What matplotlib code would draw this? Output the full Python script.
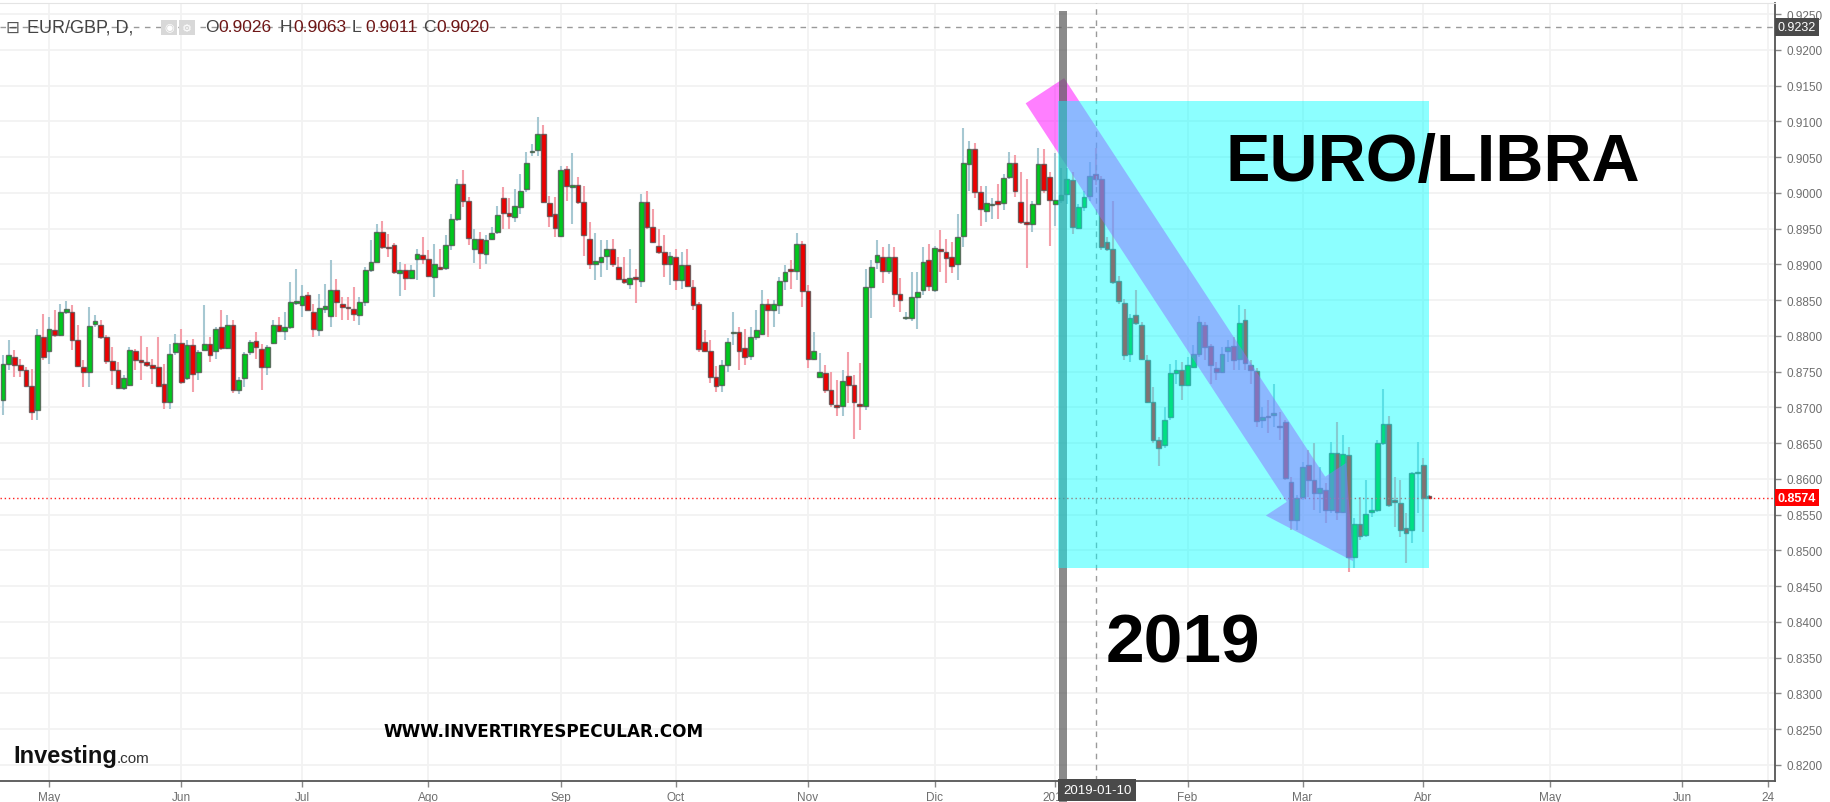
import numpy as np
import pandas as pd
import matplotlib
matplotlib.use('Agg')
import matplotlib.pyplot as plt
from matplotlib.patches import Rectangle, Polygon
import matplotlib.transforms as mtransforms

# EUR/GBP diario, 19-abr-2018 a 02-abr-2019
apertura = [
    .8711, .8761, .8771, .8760, .8752, .8730, .8697, .8798, .8779, .8809,
    .8801, .8833, .8834, .8795, .8757, .8749, .8817, .8815, .8798, .8765,
    .8753, .8727, .8732, .8779, .8767, .8764, .8760, .8757, .8733, .8707,
    .8777, .8790, .8741, .8787, .8749, .8781, .8789, .8779, .8812, .8783,
    .8815, .8724, .8741, .8777, .8793, .8782, .8757, .8790, .8815, .8807,
    .8812, .8846, .8844, .8858, .8834, .8808, .8838, .8828, .8864, .8845,
    .8841, .8838, .8830, .8848, .8892, .8904, .8946, .8925, .8927, .8888,
    .8892, .8881, .8907, .8913, .8908, .8882, .8897, .8895, .8927, .8964,
    .9012, .8989, .8922, .8936, .8914, .8936, .8946, .8993, .8972, .8966,
    .8981, .9005, .9058, .9060, .9082, .8986, .8971, .8940, .9034, .9009,
    .9011, .8988, .8936, .8900, .8903, .8912, .8921, .8896, .8880, .8873,
    .8882, .8877, .8987, .8953, .8926, .8918, .8900, .8910, .8878, .8899,
    .8868, .8845, .8791, .8779, .8743, .8731, .8760, .8804, .8805, .8783,
    .8772, .8798, .8803, .8845, .8836, .8843, .8877, .8893, .8891, .8929,
    .8863, .8768, .8743, .8748, .8725, .8703, .8702, .8744, .8732, .8705,
    .8702, .8868, .8904, .8911, .8891, .8911, .8859, .8825, .8825, .8855,
    .8865, .8906, .8865, .8921, .8917, .8911, .8900, .8940, .9041, .9062,
    .9002, .8975, .8983, .8989, .8986, .9022, .9042, .8987, .8959, .8956,
    .8985, .9041, .9023, .8985, .8990, .8999, .9018, .8951, .8980, .8996,
    .9026, .9020, .8931, .8922, .8877, .8846, .8775, .8829, .8816, .8766,
    .8708, .8654, .8648, .8687, .8748, .8752, .8732, .8757, .8775, .8815,
    .8786, .8755, .8749, .8779, .8786, .8768, .8823, .8759, .8751, .8683,
    .8688, .8690, .8674, .8679, .8596, .8543, .8575, .8619, .8598, .8580,
    .8585, .8556, .8636, .8554, .8633, .8491, .8537, .8522, .8554, .8556,
    .8650, .8677, .8570, .8567, .8531, .8529, .8608, .8620, .8576,
]
maximo = [
    .8773, .8794, .8780, .8768, .8757, .8754, .8810, .8831, .8826, .8836,
    .8845, .8849, .8843, .8815, .8766, .8841, .8829, .8822, .8801, .8784,
    .8764, .8745, .8784, .8782, .8800, .8784, .8768, .8798, .8761, .8789,
    .8803, .8810, .8794, .8796, .8780, .8843, .8799, .8813, .8836, .8829,
    .8822, .8743, .8778, .8794, .8806, .8789, .8787, .8823, .8827, .8834,
    .8876, .8893, .8871, .8861, .8845, .8859, .8872, .8906, .8879, .8854,
    .8854, .8869, .8855, .8896, .8934, .8956, .8961, .8943, .8930, .8904,
    .8901, .8899, .8922, .8939, .8920, .8929, .8922, .8941, .8971, .9020,
    .9032, .8994, .8950, .8945, .8941, .8952, .8982, .9009, .8993, .9006,
    .9027, .9057, .9069, .9106, .9095, .8996, .8994, .9038, .9038, .9056,
    .9023, .9010, .8959, .8944, .8934, .8934, .8936, .8911, .8911, .8922,
    .8894, .8998, .9003, .8978, .8949, .8941, .8918, .8921, .8918, .8922,
    .8878, .8848, .8809, .8794, .8758, .8766, .8797, .8834, .8813, .8810,
    .8813, .8836, .8864, .8852, .8851, .8883, .8899, .8906, .8944, .8933,
    .8871, .8805, .8776, .8759, .8750, .8739, .8752, .8778, .8745, .8762,
    .8894, .8906, .8934, .8925, .8928, .8924, .8881, .8833, .8889, .8890,
    .8924, .8928, .8926, .8948, .8935, .8931, .8970, .9091, .9072, .9070,
    .9010, .9010, .8993, .9013, .9026, .9057, .9053, .9030, .9019, .8989,
    .9063, .9062, .9030, .9056, .9035, .9035, .9030, .8984, .9003, .9044,
    .9063, .9024, .8938, .8989, .8884, .8852, .8831, .8864, .8819, .8773,
    .8729, .8659, .8701, .8761, .8766, .8764, .8771, .8787, .8828, .8820,
    .8789, .8764, .8785, .8794, .8799, .8844, .8838, .8766, .8755, .8701,
    .8710, .8733, .8694, .8682, .8603, .8577, .8624, .8640, .8651, .8617,
    .8594, .8652, .8680, .8661, .8645, .8545, .8575, .8598, .8573, .8654,
    .8726, .8688, .8603, .8598, .8552, .8610, .8652, .8629, .8578,
]
minimo = [
    .8689, .8752, .8743, .8743, .8729, .8682, .8682, .8766, .8761, .8799,
    .8800, .8831, .8780, .8757, .8729, .8729, .8813, .8796, .8761, .8731,
    .8726, .8725, .8730, .8752, .8738, .8757, .8733, .8729, .8698, .8698,
    .8774, .8733, .8738, .8721, .8739, .8780, .8764, .8768, .8780, .8782,
    .8720, .8719, .8729, .8773, .8768, .8724, .8745, .8789, .8806, .8795,
    .8810, .8843, .8827, .8836, .8799, .8800, .8832, .8813, .8826, .8822,
    .8822, .8821, .8816, .8842, .8889, .8903, .8921, .8910, .8886, .8856,
    .8864, .8880, .8878, .8901, .8882, .8854, .8892, .8892, .8920, .8961,
    .8980, .8927, .8902, .8894, .8901, .8934, .8942, .8950, .8950, .8960,
    .8971, .9001, .9052, .9052, .8986, .8952, .8938, .8938, .8989, .8956,
    .8985, .8912, .8894, .8878, .8883, .8892, .8897, .8878, .8873, .8866,
    .8846, .8868, .8950, .8930, .8915, .8883, .8871, .8864, .8866, .8868,
    .8836, .8778, .8777, .8734, .8722, .8722, .8750, .8787, .8752, .8759,
    .8766, .8794, .8801, .8799, .8813, .8831, .8864, .8866, .8878, .8841,
    .8755, .8766, .8742, .8720, .8701, .8688, .8688, .8706, .8656, .8669,
    .8696, .8825, .8894, .8874, .8886, .8840, .8833, .8822, .8821, .8810,
    .8858, .8863, .8861, .8889, .8874, .8888, .8878, .8924, .9003, .8993,
    .8954, .8960, .8963, .8963, .8976, .9019, .8994, .8956, .8895, .8945,
    .8984, .9000, .8926, .8954, .8986, .8984, .8942, .8949, .8975, .8989,
    .9011, .8920, .8919, .8873, .8845, .8766, .8764, .8815, .8766, .8706,
    .8650, .8618, .8643, .8682, .8733, .8710, .8731, .8755, .8771, .8766,
    .8733, .8738, .8748, .8764, .8753, .8753, .8752, .8733, .8673, .8671,
    .8664, .8673, .8654, .8598, .8528, .8529, .8570, .8575, .8556, .8552,
    .8538, .8552, .8542, .8552, .8470, .8475, .8515, .8519, .8547, .8554,
    .8647, .8561, .8533, .8519, .8482, .8510, .8552, .8526, .8572,
]
cierre = [
    .8761, .8774, .8759, .8752, .8730, .8693, .8802, .8771, .8810, .8801,
    .8833, .8838, .8795, .8758, .8749, .8814, .8821, .8798, .8765, .8753,
    .8727, .8741, .8781, .8767, .8764, .8760, .8755, .8730, .8707, .8775,
    .8790, .8736, .8788, .8747, .8778, .8789, .8774, .8810, .8783, .8815,
    .8724, .8738, .8775, .8792, .8785, .8757, .8784, .8815, .8807, .8812,
    .8847, .8849, .8856, .8837, .8810, .8839, .8842, .8864, .8847, .8841,
    .8839, .8831, .8848, .8892, .8903, .8946, .8924, .8923, .8890, .8892,
    .8881, .8892, .8914, .8908, .8884, .8900, .8894, .8927, .8964, .9012,
    .8989, .8937, .8936, .8916, .8934, .8944, .8969, .8972, .8968, .8982,
    .9003, .9042, .9059, .9082, .8987, .8968, .8951, .9032, .9010, .9011,
    .8987, .8941, .8901, .8905, .8911, .8921, .8901, .8880, .8875, .8881,
    .8879, .8987, .8953, .8932, .8918, .8900, .8912, .8878, .8899, .8870,
    .8844, .8782, .8779, .8743, .8730, .8760, .8791, .8806, .8779, .8770,
    .8798, .8809, .8845, .8837, .8845, .8877, .8890, .8891, .8929, .8863,
    .8768, .8779, .8750, .8725, .8705, .8700, .8737, .8731, .8707, .8702,
    .8868, .8896, .8913, .8891, .8911, .8859, .8850, .8827, .8854, .8862,
    .8904, .8870, .8923, .8919, .8909, .8898, .8939, .9042, .9062, .9002,
    .8978, .8986, .8985, .8985, .9021, .9042, .9003, .8959, .8956, .8985,
    .9041, .9004, .8990, .8990, .8997, .9020, .8952, .8980, .8995, .9024,
    .9020, .8925, .8922, .8876, .8849, .8774, .8825, .8818, .8768, .8708,
    .8654, .8643, .8683, .8748, .8753, .8732, .8760, .8775, .8820, .8785,
    .8760, .8750, .8775, .8785, .8766, .8818, .8762, .8752, .8681, .8687,
    .8686, .8692, .8673, .8601, .8543, .8573, .8617, .8598, .8581, .8587,
    .8556, .8636, .8554, .8635, .8491, .8537, .8520, .8551, .8556, .8650,
    .8677, .8563, .8568, .8528, .8525, .8608, .8610, .8574, .8574,
]

meses = ['Ene', 'Feb', 'Mar', 'Abr', 'May', 'Jun', 'Jul', 'Ago', 'Sep', 'Oct', 'Nov', 'Dic']
precio_actual = 0.8574
precio_cursor = 0.9232
fecha_cursor = '2019-01-10'
cabecera_ohlc = [('O', '0.9026'), ('H', '0.9063'), ('L', '0.9011'), ('C', '0.9020')]

# eje de dias habiles (sin fines de semana), como en investing.com
eje = pd.bdate_range('2018-04-19', '2019-06-28')
x = np.arange(len(cierre))
o = np.array(apertura); h = np.array(maximo); l = np.array(minimo); c = np.array(cierre)

W, H = 1830, 803
fig = plt.figure(figsize=(W / 100, H / 100), dpi=100)
ax = fig.add_axes([0, 21 / H, 1775 / W, 778 / H])
ax.set_xlim(-0.52, 308.17)
ax.set_ylim(0.81776, 0.92657)

sube = c >= o
col_cuerpo = np.where(sube, '#00C81E', '#EE0000')
col_mecha = np.where(sube, '#A6C8D2', '#F4A0AA')

ax.vlines(x, l, h, colors=col_mecha, lw=1.5, zorder=2)
ax.bar(x, np.maximum(np.abs(c - o), 0.00006), bottom=np.minimum(o, c), width=0.8,
       color=col_cuerpo, edgecolor=(0.3, 0.3, 0.3, 0.75), linewidth=1, zorder=3)

# ticks de meses
pos_ticks, etiquetas = [], []
for per in pd.period_range('2018-05', '2019-06', freq='M'):
    primero = eje[(eje.year == per.year) & (eje.month == per.month)][0]
    pos_ticks.append(eje.get_loc(primero))
    etiquetas.append('2019' if (per.year == 2019 and per.month == 1) else meses[per.month - 1])
pos_ticks.append(eje.get_loc(pd.Timestamp('2019-06-24')))
etiquetas.append('24')
ax.set_xticks(pos_ticks)
ax.set_xticklabels(etiquetas)
ax.set_yticks(np.arange(0.820, 0.9251, 0.005))
ax.yaxis.set_major_formatter(plt.FuncFormatter(lambda v, p: f'{v:.4f}'))
ax.yaxis.tick_right()
ax.tick_params(axis='both', colors='#888888', labelcolor='#6E6E6E', labelsize=8.5,
               length=4, width=1)
ax.tick_params(axis='x', pad=3)
ax.tick_params(axis='y', pad=4)
for lab in ax.get_xticklabels() + ax.get_yticklabels():
    lab.set_fontfamily('Liberation Sans')
ax.grid(True, color='#F2F2F2', lw=1.3)
ax.set_axisbelow(True)
ax.spines['left'].set_visible(False)
ax.spines['top'].set_color('#E4E4E4')
ax.spines['right'].set_color('#555555')
ax.spines['bottom'].set_color('#555555')
ax.spines['right'].set_linewidth(1.3)
ax.spines['bottom'].set_linewidth(1.3)

# lineas de precio
ax.axhline(precio_actual, color='#FF2020', lw=1, ls=(0, (1, 2)), zorder=4)
ax.axhline(precio_cursor, color='#9A9A9A', lw=1, ls=(0, (4, 4)), zorder=4)
pos_cursor = eje.get_loc(pd.Timestamp(fecha_cursor))
ax.axvline(pos_cursor, color='#9A9A9A', lw=1, ls=(0, (4, 4)), zorder=4)

# flecha dibujada (magenta), en pixeles de pantalla
ini = ax.transData.transform((181.2, 0.9143))
fin = ax.transData.transform((234.8, 0.8485))
d = fin - ini
u = d / np.hypot(*d)
n = np.array([-u[1], u[0]])
base = fin - u * 86
pts = [ini + n * 23, base + n * 23, base + n * 48, fin, base - n * 48, base - n * 23, ini - n * 23]
pts = ax.transData.inverted().transform(np.array(pts))
ax.add_patch(Polygon(pts, closed=True, fc='#FF00FF', alpha=0.5, ec='none', zorder=5))

# barra vertical gris (inicio 2019)
ax.axvspan(183.6, 185.1, ymin=-21 / 778, ymax=(782 - 12) / 778, color='#5A5A5A', alpha=0.7,
           lw=0, zorder=6, clip_on=False)

# rectangulo cian
ax.add_patch(Rectangle((183.5, 0.8475), 248.05 - 183.5, 0.9128 - 0.8475, fc='#00FFFF',
                       alpha=0.45, ec='none', zorder=7))

# etiquetas de precio a la derecha
trans_y = mtransforms.blended_transform_factory(ax.transAxes, ax.transData)
ax.text(1.0015, precio_cursor, f'{precio_cursor:.4f}', transform=trans_y, va='center', ha='left',
        color='white', fontsize=9, family='Liberation Sans', clip_on=False, zorder=10,
        bbox=dict(boxstyle='square,pad=0.22', fc='#4A4A4A', ec='none'))
ax.text(1.0015, precio_actual, f'{precio_actual:.4f}', transform=trans_y, va='center', ha='left',
        color='white', fontsize=9, fontweight='bold', family='Liberation Sans', clip_on=False,
        zorder=10, bbox=dict(boxstyle='square,pad=0.22', fc='#FF0000', ec='none'))
trans_x = mtransforms.blended_transform_factory(ax.transData, ax.transAxes)
ax.text(pos_cursor + 0.3, -0.004, fecha_cursor, transform=trans_x, va='top', ha='center',
        color='white', fontsize=9.5, family='Liberation Sans', clip_on=False, zorder=10,
        bbox=dict(boxstyle='square,pad=0.35', fc='#4A4A4A', ec='none'))

# cabecera
def fx(px):
    return px / W

def fy(py):
    return 1 - py / H

fig.text(fx(5), fy(28), '⊟', fontsize=12, color='#555555', va='center', family='DejaVu Sans')
fig.text(fx(27), fy(28), 'EUR/GBP, D,', fontsize=13, color='#444444', va='center',
         family='Liberation Sans')
for xi, sim in [(161, '◉'), (179, '⚙')]:
    fig.patches.append(Rectangle((fx(xi), fy(36)), 16 / W, 15 / H, transform=fig.transFigure,
                                 fc='#D8D8D8', ec='none'))
    fig.text(fx(xi + 8), fy(28.5), sim, fontsize=8, color='white', ha='center', va='center',
             family='DejaVu Sans')
for xi, (letra, val) in zip([205, 280, 352, 423], cabecera_ohlc):
    fig.text(fx(xi), fy(28), letra, fontsize=12.5, color='#444444', va='center',
             family='Liberation Sans')
    fig.text(fx(xi + 13), fy(28), val, fontsize=12.5, color='#6E1616', va='center',
             family='Liberation Sans')

# textos grandes
fig.text(fx(1225), fy(181), 'EURO/LIBRA', fontsize=48, fontweight='bold', color='black',
         family='Liberation Sans', va='baseline')
fig.text(fx(1106), fy(663), '2019', fontsize=50, fontweight='bold', color='black',
         family='Liberation Sans', va='baseline')
fig.text(fx(383), fy(737), 'WWW.INVERTIRYESPECULAR.COM', fontsize=12.2, fontweight='bold',
         color='black', family='DejaVu Sans', va='baseline')

# logo
fig.text(fx(13), fy(763), 'Investing', fontsize=17, fontweight='bold', color='#111111',
         family='Liberation Sans', va='baseline')
fig.text(fx(117), fy(763), '.com', fontsize=11, color='#333333', family='Liberation Sans',
         va='baseline')

fig.savefig('out.png', dpi=100)
